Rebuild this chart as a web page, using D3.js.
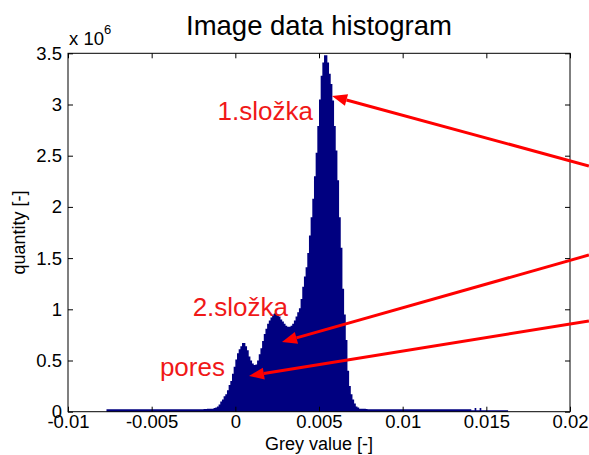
<!DOCTYPE html>
<html><head><meta charset="utf-8">
<script src="https://cdn.jsdelivr.net/npm/d3@7"></script>
<style>body{margin:0;background:#fff} svg text{font-family:"Liberation Sans",Arial,Helvetica,sans-serif}</style>
</head><body><svg id="c" width="589" height="455"></svg>
<script>
// histogram bins (values in millions), bin edges start at binStart, width binWidth
const binStart = -0.0077, binWidth = 0.0001;
const leftTail = [
 0.025,0.025,0.025,0.025,0.025,0.025,0.025,0.025,0.025,0.025,
 0.025,0.025,0.025,0.025,0.025,0.025,0.025,0.025,0.025,0.025,
 0.025,0.025,0.025,0.025,0.025,0.025,0.025,0.025,0.025,0.025,
 0.025,0.025,0.025,0.025,0.025,0.025,0.025,0.025,0.025,0.025,
 0.025,0.025,0.025,0.025,0.025,0.025,0.025,0.025,0.025,0.025,
 0.025,0.025,0.025,0.025,0.025,0.025,0.025,0.025,0.026,0.027,
 0.028,0.029];
const mainCounts = [
 0.03,0.03,0.035,0.04,0.05,0.07,0.10,0.12,0.15,0.17,
 0.21,0.26,0.30,0.37,0.44,0.51,0.57,0.61,0.64,0.67,
 0.67,0.64,0.60,0.54,0.50,0.47,0.455,0.46,0.50,0.56,
 0.62,0.69,0.76,0.81,0.86,0.89,0.92,0.95,0.96,0.96,
 0.95,0.93,0.90,0.88,0.86,0.84,0.83,0.83,0.84,0.86,
 0.89,0.93,0.97,1.01,1.10,1.22,1.32,1.41,1.55,1.72,
 1.90,2.08,2.30,2.53,2.79,3.05,3.28,3.41,3.48,3.48,
 3.41,3.30,3.20,3.04,2.79,2.55,2.26,1.90,1.60,1.20,
 0.95,0.70,0.40,0.25,0.17,0.12,0.08,0.05,0.04,0.03,
 0.03];
const rightTail = [
 0.03,0.028,0.026,0.025,0.025,0.025,0.025,0.025,0.025,0.025,
 0.025,0.025,0.025,0.025,0.025,0.025,0.025,0.025,0.025,0.025,
 0.025,0.025,0.025,0.025,0.025,0.025,0.025,0.025,0.025,0.025,
 0.025,0.025,0.025,0.025,0.025,0.025,0.025,0.025,0.025,0.025,
 0.025,0.025,0.025,0.025,0.025,0.025,0.025,0.025,0.025,0.025,
 0.025,0.025,0.025,0.025,0.025,0.025,0.025,0.025,0.025,0.025,
 0.025,0.025,0.025,0.025,0.025,
 0.015,0.015,0.035,0.015,0.015,0.035,0.015,0.015,0.015,0.015,
 0.015,0.015,0.015,0.015,0.015,0.015,0.015,0.015,0.015,0.015,
 0.015,0.015];
const xTicks = [-0.01,-0.005,0,0.005,0.01,0.015,0.02];
const xTickLabels = ["-0.01","-0.005","0","0.005","0.01","0.015","0.02"];
const yTicks = [0,0.5,1,1.5,2,2.5,3,3.5];
const yTickLabels = ["0","0.5","1","1.5","2","2.5","3","3.5"];
const annotations = [
 {label:"1.složka", tx:0.00464, ty:2.848, from:[0.02113,2.40], to:[0.005777,3.083]},
 {label:"2.složka", tx:0.00315, ty:0.935, from:[0.02113,1.53], to:[0.002789,0.681]},
 {label:"pores",    tx:-0.00062, ty:0.349, from:[0.02113,0.886], to:[0.000817,0.349]}
];

const counts = leftTail.concat(mainCounts, rightTail);
const bins = counts.map((v,i)=>({x0:binStart+i*binWidth, x1:binStart+(i+1)*binWidth, v}));

const svg = d3.select("#c");
const L=68, R=570, T=53.3, B=411.7;
const x = d3.scaleLinear().domain([-0.01,0.02]).range([L,R]);
const y = d3.scaleLinear().domain([0,3.5]).range([B,T]);
const FF = "'Liberation Sans',Arial,sans-serif";

// histogram as step area
const pts = [];
bins.forEach(b=>{pts.push([b.x0,b.v]);pts.push([b.x1,b.v]);});
pts.unshift([bins[0].x0,0]); pts.push([bins[bins.length-1].x1,0]);
svg.append("path")
  .attr("d", d3.area().x(d=>x(d[0])).y0(y(0)).y1(d=>y(d[1]))(pts))
  .attr("fill","#000080");

// axes
const ax = g=>{g.selectAll(".domain").remove();g.selectAll("line").attr("stroke","#000");};
svg.append("g").attr("transform",`translate(0,${B})`)
  .call(d3.axisBottom(x).tickValues(xTicks).tickFormat((d,i)=>xTickLabels[i]).tickSizeInner(-5).tickSizeOuter(0).tickPadding(3))
  .call(ax).call(g=>g.selectAll("text").attr("font-size",18.5).attr("fill","#000").style("font-family",FF));
svg.append("g").attr("transform",`translate(0,${T})`)
  .call(d3.axisTop(x).tickValues(xTicks).tickFormat("").tickSizeInner(-5).tickSizeOuter(0)).call(ax);
svg.append("g").attr("transform",`translate(${L},0)`)
  .call(d3.axisLeft(y).tickValues(yTicks).tickFormat((d,i)=>yTickLabels[i]).tickSizeInner(-5).tickSizeOuter(0).tickPadding(6))
  .call(ax).call(g=>g.selectAll("text").attr("font-size",18.5).attr("fill","#000").style("font-family",FF));
svg.append("g").attr("transform",`translate(${R},0)`)
  .call(d3.axisRight(y).tickValues(yTicks).tickFormat("").tickSizeInner(-5).tickSizeOuter(0)).call(ax);
svg.append("rect").attr("x",L).attr("y",T).attr("width",R-L).attr("height",B-T)
  .attr("fill","none").attr("stroke","#000").attr("stroke-width",1);

// exponent
const ex = svg.append("text").attr("x",L+1).attr("y",45).attr("font-size",18.5).attr("fill","#000");
ex.append("tspan").text("x 10");
ex.append("tspan").attr("dy",-11).attr("font-size",13).text("6");

// title & labels
svg.append("text").attr("x",(L+R)/2).attr("y",35).attr("text-anchor","middle").attr("font-size",27.5).text("Image data histogram");
svg.append("text").attr("x",(L+R)/2).attr("y",450).attr("text-anchor","middle").attr("font-size",18).text("Grey value [-]");
svg.append("text").attr("transform",`translate(25,${(T+B)/2}) rotate(-90)`).attr("text-anchor","middle").attr("font-size",18).text("quantity [-]");

// annotations
const red = "#ff0000";
annotations.forEach(a=>{
  const x1=x(a.from[0]), y1=y(a.from[1]), x2=x(a.to[0]), y2=y(a.to[1]);
  const ang=Math.atan2(y2-y1,x2-x1), hl=15, hw=6;
  const bx=x2-hl*Math.cos(ang), by=y2-hl*Math.sin(ang);
  svg.append("line").attr("x1",x1).attr("y1",y1).attr("x2",bx).attr("y2",by)
    .attr("stroke",red).attr("stroke-width",3);
  const px=-Math.sin(ang), py=Math.cos(ang);
  svg.append("polygon").attr("points",[[x2,y2],[bx+hw*px,by+hw*py],[bx-hw*px,by-hw*py]].map(p=>p.join(",")).join(" "))
    .attr("fill",red);
  svg.append("text").attr("x",x(a.tx)).attr("y",y(a.ty)).attr("text-anchor","end")
    .attr("font-size",26).attr("fill","#f01818").text(a.label);
});
</script></body></html>
